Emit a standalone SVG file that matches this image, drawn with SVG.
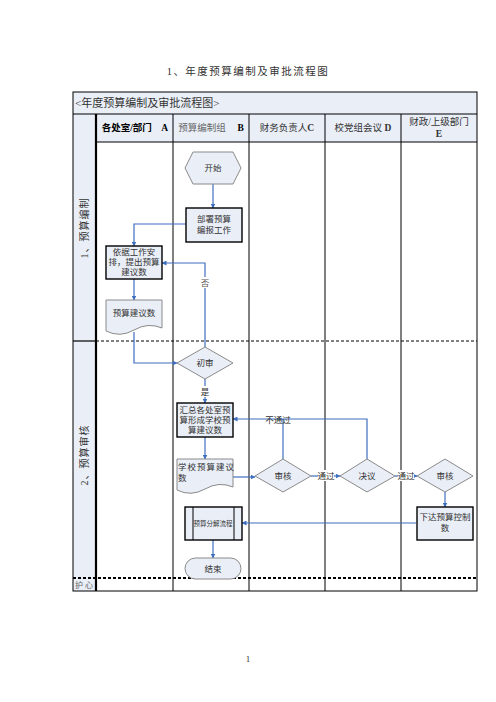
<svg xmlns="http://www.w3.org/2000/svg" width="496" height="702" viewBox="0 0 496 702">
<defs>
<marker id="arr" viewBox="0 0 10 10" refX="9" refY="5" markerWidth="5" markerHeight="5" orient="auto" markerUnits="userSpaceOnUse">
<path d="M0,0 L10,5 L0,10 Z" fill="#3F6FBF"/>
</marker>
<style>
text{font-family:"Liberation Serif","Noto Sans CJK SC",serif;fill:#333;}
.t9{font-size:8.5px;text-anchor:middle;}
.hd{font-size:9.5px;text-anchor:middle;}
.box{fill:#E9EEF7;stroke:#000;stroke-width:1.4;}
.shp{fill:#E9EEF7;stroke:#8A8A8A;stroke-width:1;}
.ln{fill:none;stroke:#3F6FBF;stroke-width:1.2;}
.grid{stroke:#000;stroke-width:1;fill:none;}
</style>
</defs>
<rect width="496" height="702" fill="#fff"/>
<text x="248" y="75" style="font-size:10.5px;text-anchor:middle;letter-spacing:1.5px">1、年度预算编制及审批流程图</text>

<g id="table">
<rect x="73" y="92" width="404" height="22" fill="#E9EEF7"/>
<rect x="73" y="114" width="23" height="477" fill="#E9EEF7"/>
<rect x="96" y="114" width="381" height="28" fill="#E9EEF7"/>
<rect x="96" y="142" width="381" height="449" fill="#fff"/>
<rect x="73" y="92" width="404" height="499" class="grid"/>
<line x1="73" y1="114" x2="477" y2="114" class="grid"/>
<line x1="96" y1="142" x2="477" y2="142" class="grid"/>
<line x1="96" y1="114" x2="96" y2="591" stroke="#000" stroke-width="2.2"/>
<line x1="173" y1="114" x2="173" y2="591" class="grid"/>
<line x1="249" y1="114" x2="249" y2="591" class="grid"/>
<line x1="325" y1="114" x2="325" y2="591" class="grid"/>
<line x1="401" y1="114" x2="401" y2="591" class="grid"/>
<line x1="73" y1="341" x2="96" y2="341" stroke="#000" stroke-width="1.2"/>
<line x1="96" y1="341" x2="477" y2="341" stroke="#000" stroke-width="1" stroke-dasharray="3,2"/>
<line x1="73" y1="578" x2="477" y2="578" stroke="#000" stroke-width="2" stroke-dasharray="3,2"/>
<text x="75" y="107" style="font-size:11px">&lt;年度预算编制及审批流程图&gt;</text>
<text x="135" y="131" class="hd" style="font-weight:bold;fill:#000">各处室/部门　A</text>
<text x="211" y="131" class="hd" style="fill:#666">预算编制组　 <tspan style="fill:#000;font-weight:bold">B</tspan></text>
<text x="287" y="131" class="hd">财务负责人<tspan style="font-weight:bold">C</tspan></text>
<text x="363" y="131" class="hd">校党组会议 <tspan style="font-weight:bold">D</tspan></text>
<text x="439" y="125" class="hd">财政/上级部门</text>
<text x="439" y="137" class="hd" style="font-weight:bold">E</text>
<text transform="translate(88,228) rotate(-90)" style="font-size:10px;text-anchor:middle;letter-spacing:1px">1、预算编制</text>
<text transform="translate(88,455) rotate(-90)" style="font-size:10px;text-anchor:middle;letter-spacing:1px">2、预算审核</text>
<text x="75" y="588" style="font-size:8px;fill:#666">护 心</text>
</g>

<g id="connectors">
<line x1="213" y1="184" x2="213" y2="208" class="ln" marker-end="url(#arr)"/>
<polyline points="186,224 134,224 134,246" class="ln" marker-end="url(#arr)"/>
<line x1="134" y1="279" x2="134" y2="300" class="ln" marker-end="url(#arr)"/>
<polyline points="134,332 134,363 177,363" class="ln" marker-end="url(#arr)"/>
<polyline points="205,347 205,263 162,263" class="ln" marker-end="url(#arr)"/>
<line x1="205" y1="379" x2="205" y2="403" class="ln" marker-end="url(#arr)"/>
<line x1="205" y1="437" x2="205" y2="459" class="ln" marker-end="url(#arr)"/>
<line x1="233" y1="477" x2="255" y2="477" class="ln" marker-end="url(#arr)"/>
<line x1="311" y1="476" x2="340" y2="476" class="ln" marker-end="url(#arr)"/>
<line x1="395" y1="476" x2="417" y2="476" class="ln" marker-end="url(#arr)"/>
<polyline points="367,459 367,419 233,419" class="ln" marker-end="url(#arr)"/>
<line x1="283" y1="459" x2="283" y2="419" class="ln"/>
<line x1="445" y1="492" x2="445" y2="507" class="ln" marker-end="url(#arr)"/>
<line x1="416" y1="523" x2="242" y2="523" class="ln" marker-end="url(#arr)"/>
<line x1="213" y1="540" x2="213" y2="558" class="ln" marker-end="url(#arr)"/>
<rect x="201" y="277" width="8" height="11" fill="#fff"/>
<text x="205" y="286" class="t9" style="fill:#555">否</text>
<rect x="201" y="386" width="8" height="11" fill="#fff"/>
<text x="205" y="395" class="t9">是</text>
<text x="278" y="423" class="t9">不通过</text>
<rect x="318" y="470" width="16" height="11" fill="#fff"/>
<text x="326" y="479" class="t9">通过</text>
<rect x="398" y="470" width="16" height="11" fill="#fff"/>
<text x="406" y="479" class="t9">通过</text>
</g>

<g id="start">
<polygon points="185,168 193,152 233,152 241,168 233,184 193,184" class="shp"/>
<text x="213" y="171" class="t9">开始</text>
</g>
<g id="deploy">
<rect x="186" y="208" width="56" height="34" class="box"/>
<text x="214" y="222" class="t9">部署预算</text>
<text x="214" y="233" class="t9">编报工作</text>
</g>
<g id="propose">
<rect x="106" y="246" width="56" height="33" class="box"/>
<text x="134" y="255" class="t9">依据工作安</text>
<text x="134" y="265" class="t9">排，提出预算</text>
<text x="134" y="275" class="t9">建议数</text>
</g>
<g id="doc1">
<path d="M106,300 H162 V328 Q148,322 134,330 T106,331 Z" class="shp"/>
<text x="134" y="316" class="t9">预算建议数</text>
</g>
<g id="prelim">
<polygon points="177,363 205,347 233,363 205,379" class="shp"/>
<text x="205" y="366" class="t9">初审</text>
</g>
<g id="summary">
<rect x="177" y="403" width="56" height="34" class="box"/>
<text x="205" y="413" class="t9">汇总各处室预</text>
<text x="205" y="423" class="t9">算形成学校预</text>
<text x="205" y="433" class="t9">算建议数</text>
</g>
<g id="doc2">
<path d="M177,459 H233 V487 Q219,481 205,489 T177,490 Z" class="shp"/>
<text x="178" y="470" style="font-size:8.5px;letter-spacing:1px">学校预算建议</text>
<text x="178" y="481" style="font-size:8.5px">数</text>
</g>
<g id="reviewC">
<polygon points="255,476 283,459 311,476 283,492" class="shp"/>
<text x="283" y="479" class="t9">审核</text>
</g>
<g id="resolve">
<polygon points="340,476 367,459 395,476 367,492" class="shp"/>
<text x="367" y="479" class="t9">决议</text>
</g>
<g id="reviewE">
<polygon points="417,476 445,459 473,476 445,492" class="shp"/>
<text x="445" y="479" class="t9">审核</text>
</g>
<g id="control">
<rect x="417" y="507" width="56" height="33" class="box"/>
<text x="445" y="520" class="t9">下达预算控制</text>
<text x="445" y="531" class="t9">数</text>
</g>
<g id="decompose">
<rect x="185" y="507" width="57" height="33" class="box"/>
<line x1="193" y1="507" x2="193" y2="540" stroke="#000" stroke-width="1"/>
<line x1="234" y1="507" x2="234" y2="540" stroke="#000" stroke-width="1"/>
<text x="213" y="526" style="font-size:6.5px;text-anchor:middle">预算分解流程</text>
</g>
<g id="end">
<rect x="185" y="558" width="56" height="21" rx="10.5" ry="10.5" class="shp"/>
<text x="213" y="572" class="t9">结束</text>
</g>
<text x="248" y="662" style="font-size:9px;text-anchor:middle">1</text>
</svg>
